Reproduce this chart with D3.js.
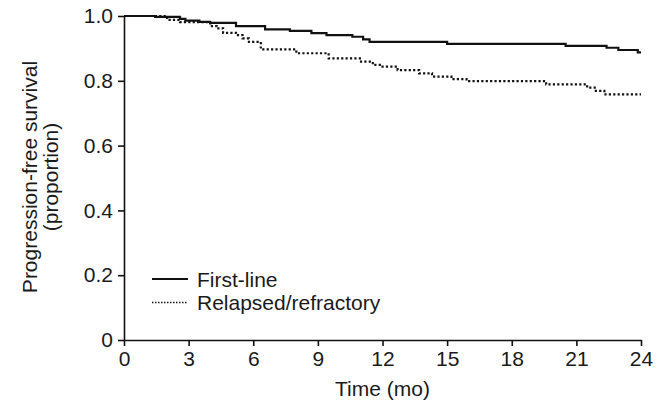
<!DOCTYPE html>
<html>
<head>
<meta charset="utf-8">
<script src="https://cdn.jsdelivr.net/npm/d3@7"></script>
<style>
  html, body { margin: 0; padding: 0; background: #fff; }
  svg { display: block; }
  text { font-family: "Liberation Sans", Arial, Helvetica, sans-serif; fill: #1a1a1a; }
</style>
</head>
<body>
<svg id="chart" width="667" height="408"></svg>
<script>
// ---- data ----
const xTicks = [0, 3, 6, 9, 12, 15, 18, 21, 24];
const yTicks = [0, 0.2, 0.4, 0.6, 0.8, 1.0];
const yTickLabels = ["0", "0.2", "0.4", "0.6", "0.8", "1.0"];
const seriesNames = ["First-line", "Relapsed/refractory"];

const firstLineTime = [0, 1.45, 2.6, 2.85, 3.5, 4.0, 5.2, 6.55, 7.7, 8.7, 9.4, 10.6, 11.1, 11.4, 15.0, 20.5, 22.4, 22.95, 23.85, 24];
const firstLineSurv = [1.0, 0.997, 0.991, 0.986, 0.982, 0.979, 0.969, 0.959, 0.954, 0.947, 0.941, 0.936, 0.928, 0.920, 0.914, 0.908, 0.902, 0.895, 0.888, 0.888];

const relapsedTime = [0, 2.0, 2.6, 4.0, 4.3, 4.6, 5.2, 5.5, 5.8, 6.35, 8.0, 9.5, 10.95, 11.55, 12.0, 12.7, 13.7, 14.3, 15.2, 15.9, 19.6, 21.5, 21.85, 22.3, 24];
const relapsedSurv = [1.0, 0.988, 0.981, 0.969, 0.962, 0.948, 0.941, 0.931, 0.920, 0.897, 0.885, 0.869, 0.859, 0.849, 0.844, 0.833, 0.823, 0.813, 0.805, 0.799, 0.789, 0.779, 0.769, 0.758, 0.758];

// ---- layout ----
const svg = d3.select("#chart");
const x0 = 124, x1 = 641, y0 = 340, y1 = 16;
const x = d3.scaleLinear().domain([0, 24]).range([x0, x1]);
const y = d3.scaleLinear().domain([0, 1]).range([y0, y1]);
const fontSize = 21;

// axes
const xAxis = d3.axisBottom(x).tickValues(xTicks).tickSize(6).tickSizeOuter(0).tickPadding(5);
const yAxis = d3.axisLeft(y).tickValues(yTicks).tickSize(6).tickSizeOuter(0).tickPadding(5)
  .tickFormat((d, i) => yTickLabels[i]);

const gx = svg.append("g").attr("transform", `translate(0,${y0})`).call(xAxis);
const gy = svg.append("g").attr("transform", `translate(${x0},0)`).call(yAxis);
[gx, gy].forEach(g => {
  g.selectAll(".domain").attr("stroke", "#111").attr("stroke-width", 1.6);
  g.selectAll(".tick line").attr("stroke", "#111").attr("stroke-width", 1.6);
  g.selectAll(".tick text").attr("font-size", fontSize).attr("fill", "#1a1a1a")
    .attr("font-family", '"Liberation Sans", Arial, sans-serif');
});

// curves
const line = d3.line().curve(d3.curveStepAfter).x(d => x(d[0])).y(d => y(d[1]));
const fl = firstLineTime.map((t, i) => [t, firstLineSurv[i]]);
const rr = relapsedTime.map((t, i) => [t, relapsedSurv[i]]);

svg.append("path").datum(rr).attr("d", line)
  .attr("fill", "none").attr("stroke", "#111").attr("stroke-width", 2.2)
  .attr("stroke-dasharray", "2.2,2.2");
svg.append("path").datum(fl).attr("d", line)
  .attr("fill", "none").attr("stroke", "#111").attr("stroke-width", 2.2);

// axis titles
svg.append("text").attr("x", (x0 + x1) / 2).attr("y", 396)
  .attr("text-anchor", "middle").attr("font-size", fontSize).text("Time (mo)");
const yt = svg.append("text").attr("transform", "translate(37,177) rotate(-90)")
  .attr("text-anchor", "middle").attr("font-size", fontSize);
yt.append("tspan").attr("x", 0).attr("dy", 0).text("Progression-free survival");
yt.append("tspan").attr("x", 0).attr("dy", 20.5).text("(proportion)");

// legend
const leg = svg.append("g");
const legY = [279, 302.5];
seriesNames.forEach((name, i) => {
  leg.append("line").attr("x1", 152).attr("x2", 188).attr("y1", legY[i]).attr("y2", legY[i])
    .attr("stroke", "#111").attr("stroke-width", i === 0 ? 2 : 1.6)
    .attr("stroke-dasharray", i === 0 ? null : "1.5,1.5");
  leg.append("text").attr("x", 197).attr("y", legY[i] + 7.5).attr("font-size", fontSize).text(name);
});
</script>
</body>
</html>
